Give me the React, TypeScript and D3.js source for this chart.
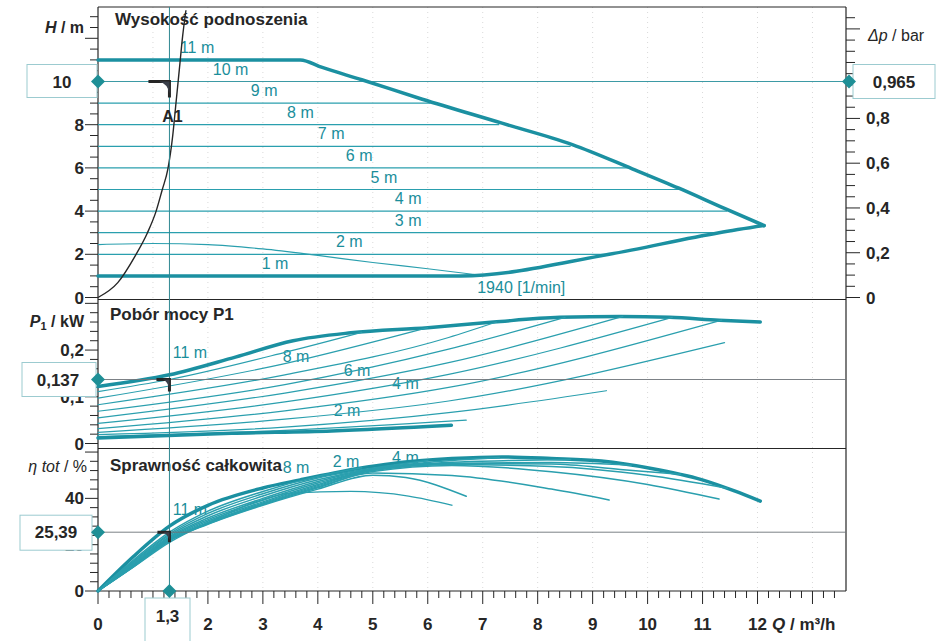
import React from 'react';
import * as d3 from 'd3';

const FONT = '"Liberation Sans", Arial, Helvetica, sans-serif';
const TEAL = '#1b90a1';
const TEAL_THIN = '#2a9fae';
const TEAL_TEXT = '#1b8e9b';
const INK = '#262626';

// Wysokość podnoszenia - constant pressure lines
const headLabels = ['11 m', '10 m', '9 m', '8 m', '7 m', '6 m', '5 m', '4 m', '3 m', '2 m', '1 m'];
const heads = [11, 10, 9, 8, 7, 6, 5, 4, 3, 2, 1];
const headEndQ = [3.68, 4.8, 6.05, 7.3, 8.6, 9.7, 10.6, 11.45, 11.3, 9.3, 6.6];
const headLabelQ = [1.49, 2.09, 2.78, 3.44, 4.0, 4.51, 4.96, 5.4, 5.4, 4.33, 2.98];

// max speed curve (upper boundary) and lower boundary
const maxQ = [0, 3.68, 4.08, 4.8, 5.9, 7.35, 8.63, 9.72, 10.57, 11.41, 12.12];
const maxH = [11, 11, 10.65, 10.08, 9.18, 8.07, 7.08, 5.96, 5.06, 4.11, 3.33];
const lowQ = [0, 6.6, 9.3, 11.3, 12.12];
const lowH = [1, 1, 2, 3, 3.33];

// 1940 1/min curve
const minSpeedQ = [0, 1, 2, 3, 4, 5, 6, 6.9];
const minSpeedH = [2.45, 2.5, 2.45, 2.25, 1.95, 1.62, 1.33, 1.05];

// system curve through A1
const sysQ = [0, 0.36, 0.68, 0.9, 1.05, 1.17, 1.27, 1.36, 1.42, 1.48, 1.54, 1.6];
const sysH = [0, 0.69, 1.94, 3.0, 3.94, 5.0, 5.93, 7.5, 9.03, 10.56, 12.1, 13.3];

// operating point
const opQ = 1.3;
const opH = 10;
const opDp = 0.965;
const opP = 0.137;
const opEta = 25.39;

// x axis labels (1 sits under the 1,3 box)
const qLabels = [0, 2, 3, 4, 5, 6, 7, 8, 9, 10, 11, 12];

// Pobór mocy P1 [kW], one row per head (11 m .. 1 m)
const powerQ = [
  [0, 1.3, 2.5, 3.55, 4.6, 6, 7.2, 8.4, 9.5, 10.4, 11.3, 12.05],
  [0, 1.3, 3.4, 4.8],
  [0, 3.4, 6.0],
  [0, 3.4, 6.38, 7.25],
  [0, 3.4, 6.38, 8.5],
  [0, 3.4, 6.38, 9.55],
  [0, 3.4, 6.38, 10.45],
  [0, 3.4, 6.38, 11.35],
  [0, 3.4, 6.38, 11.4],
  [0, 3.4, 6.38, 9.25],
  [0, 3.4, 6.7],
];
const powerP = [
  [0.122, 0.147, 0.185, 0.22, 0.237, 0.248, 0.26, 0.27, 0.272, 0.27, 0.264, 0.26],
  [0.111, 0.137, 0.195, 0.238],
  [0.097, 0.171, 0.248],
  [0.083, 0.147, 0.227, 0.26],
  [0.069, 0.126, 0.202, 0.27],
  [0.055, 0.108, 0.173, 0.272],
  [0.043, 0.089, 0.148, 0.27],
  [0.032, 0.07, 0.12, 0.264],
  [0.024, 0.052, 0.091, 0.216],
  [0.019, 0.035, 0.066, 0.113],
  [0.015, 0.028, 0.05],
];
const powerMinQ = [0, 2.43, 4.25, 6.43];
const powerMinP = [0.012, 0.022, 0.027, 0.039];
const powerLabels = ['11 m', '8 m', '6 m', '4 m', '2 m'];
const powerLabelQ = [1.36, 3.36, 4.47, 5.35, 4.29];
const powerLabelP = [0.183, 0.175, 0.145, 0.117, 0.059];

// Sprawność całkowita [%], one row per head (11 m .. 1 m)
const effQ = [
  [0, 0.65, 1.3, 2, 3, 3.68, 4.3, 4.9, 5.5, 6.44, 7.35, 8.25, 9.16, 10.07, 10.98, 11.58, 12.05],
  [0, 0.65, 1.3, 2, 3, 4, 4.8],
  [0, 0.65, 1.3, 2, 3, 4, 5, 6],
  [0, 0.65, 1.3, 2, 3, 4, 5, 6, 7.3],
  [0, 0.65, 1.3, 2, 3, 4, 5, 6.44, 7.5, 8.6],
  [0, 0.65, 1.3, 2, 3, 4, 5, 6.44, 8.25, 9.7],
  [0, 0.65, 1.3, 2, 3, 4, 5, 6.44, 8.25, 9.5, 10.6],
  [0, 0.65, 1.3, 2, 3, 4, 5, 6.44, 8.25, 10, 11.45],
  [0, 0.65, 1.3, 2, 3, 4, 5, 6.44, 8.25, 10, 11.3],
  [0, 0.65, 1.3, 2, 3, 4, 5, 6.44, 8.25, 9.3],
  [0, 0.65, 1.3, 2, 3, 4, 5, 5.6, 6.7],
];
const effV = [
  [0, 15, 28, 37, 44.5, 48, 51, 53.5, 55.5, 57.2, 57.9, 57.2, 56.1, 52.9, 48.1, 43.2, 38.8],
  [0, 13.5, 25.4, 34.5, 43, 49.5, 53.2],
  [0, 13, 24.7, 33.5, 42, 48.8, 53, 56.3],
  [0, 12.6, 24.1, 32.5, 41, 48, 52.8, 55.5, 57.6],
  [0, 12.2, 23.5, 31.5, 40, 47.3, 52.6, 55.6, 56.3, 56.8],
  [0, 11.8, 23, 30.8, 39.2, 46.6, 52.4, 55.2, 55.5, 54.3],
  [0, 11.4, 22.6, 30.2, 38.5, 46, 52.2, 55, 54.8, 52.5, 50.4],
  [0, 11, 22.2, 29.6, 38, 45.5, 52, 54.6, 53.8, 50, 44.4],
  [0, 10.8, 22, 29.2, 37.6, 45, 51.6, 54.2, 51.5, 46, 39.7],
  [0, 10.6, 21.8, 29, 37.3, 44.6, 51, 49.9, 44, 39.3],
  [0, 10.5, 21.6, 28.8, 37, 44, 50, 49, 40.9],
];
const effMinQ = [0, 0.65, 1.3, 2, 3, 3.5, 4.6, 5.65, 6.45];
const effMinV = [0, 10.4, 21, 29.5, 39.5, 42.3, 43, 41, 37];
const effLabels = ['11 m', '8 m', '2 m', '4 m'];
const effLabelQ = [1.36, 3.36, 4.27, 5.35];
const effLabelV = [33, 51, 53.6, 55.3];

// frame
const left = 98;
const right = 846;
const top = 7;
const sep1 = 299.5;
const sep2 = 448.5;
const bottom = 591;

const x = d3.scaleLinear().domain([0, 12]).range([left, left + 12 * 54.96]);
const yH = d3.scaleLinear().domain([0, 10]).range([297.5, 81.5]);
const yBar = d3.scaleLinear().domain([0, 0.965]).range([297.5, 81.5]);
const yP = d3.scaleLinear().domain([0, 0.137]).range([443.5, 379.5]);
const yE = d3.scaleLinear().domain([0, 25.39]).range([591, 532.2]);

const fmt = (v: number) => String(+v.toFixed(4)).replace('.', ',');

function curve(qs: number[], vs: number[], sy: (v: number) => number) {
  return d3.line<number>()
    .x(q => x(q))
    .y((_, i) => sy(vs[i]))
    .curve(d3.curveMonotoneX)(qs) || '';
}

function Diamond({ cx, cy }: { cx: number; cy: number }) {
  const r = 7;
  return <path d={`M${cx},${cy - r}L${cx + r},${cy}L${cx},${cy + r}L${cx - r},${cy}Z`} fill="#1e8f96" />;
}

function Elbow({ cx, cy, len, drop }: { cx: number; cy: number; len: number; drop: number }) {
  return (
    <g>
      <path d={`M${cx - len},${cy}H${cx}V${cy + drop}`} fill="none" stroke={INK} strokeWidth={3} />
      <path d={`M${cx - len * 0.5},${cy}Q${cx - 2},${cy + 2} ${cx},${cy + drop * 0.75}L${cx},${cy}Z`} fill="#3a3f4a" />
    </g>
  );
}

function ValueBox({ x0, y0, w, h, text, tx, ty }: { x0: number; y0: number; w: number; h: number; text: string; tx: number; ty: number }) {
  return (
    <g>
      <rect x={x0} y={y0} width={w} height={h} fill="#fff" stroke="#9ccbd0" strokeWidth={1} />
      <text x={tx} y={ty} textAnchor="middle" fontSize={17} fontWeight="bold" fill={INK}>{text}</text>
    </g>
  );
}

export default function App() {
  const hTicks = d3.range(0, 13.01, 0.5);
  const pTicks = d3.range(0, 0.301, 0.02);
  const eTicks = d3.range(0, 60.1, 4);
  const barTicks = d3.range(0, 1.251, 0.05);
  const qTicks = d3.range(0, 13.41, 0.2);

  const isMajor = (v: number, step: number) => Math.abs(v / step - Math.round(v / step)) < 1e-6;

  return (
    <div style={{ position: 'absolute', left: 0, top: 0 }}>
      <svg width={938} height={641} viewBox="0 0 938 641" style={{ display: 'block', background: '#fff' }} fontFamily={FONT}>
        {/* faint grid */}
        {d3.range(1, 14).map(q => (
          <line key={'g' + q} x1={x(q)} x2={x(q)} y1={top} y2={bottom} stroke="#d9d9d9" strokeDasharray="1 4" />
        ))}

        {/* frame */}
        <line x1={left} x2={right} y1={top} y2={top} stroke={INK} strokeWidth={1.2} />
        <line x1={left} x2={left} y1={top} y2={bottom} stroke={INK} strokeWidth={1.2} />
        <line x1={right} x2={right} y1={top} y2={bottom} stroke={INK} strokeWidth={1.2} />
        <line x1={left} x2={right} y1={sep1} y2={sep1} stroke={INK} strokeWidth={1} />
        <line x1={left} x2={right} y1={sep2} y2={sep2} stroke={INK} strokeWidth={1} />
        <line x1={left} x2={right} y1={bottom} y2={bottom} stroke={INK} strokeWidth={1.2} />

        {/* left axes */}
        {hTicks.map(v => (
          <line key={'h' + v} x1={left - (isMajor(v, 2) ? 13 : 8)} x2={left} y1={yH(v)} y2={yH(v)} stroke={INK} />
        ))}
        {[0, 2, 4, 6, 8].map(v => (
          <text key={'hl' + v} x={84} y={yH(v) + 6} textAnchor="end" fontSize={17} fontWeight="bold" fill={INK}>{v}</text>
        ))}
        {pTicks.map(v => (
          <line key={'p' + v} x1={left - (isMajor(v, 0.1) ? 13 : 8)} x2={left} y1={yP(v)} y2={yP(v)} stroke={INK} />
        ))}
        {[0, 0.1, 0.2].map(v => (
          <text key={'pl' + v} x={84} y={yP(v) + 6} textAnchor="end" fontSize={17} fontWeight="bold" fill={INK}>{fmt(v)}</text>
        ))}
        {eTicks.map(v => (
          <line key={'e' + v} x1={left - (isMajor(v, 20) ? 13 : 8)} x2={left} y1={yE(v)} y2={yE(v)} stroke={INK} />
        ))}
        {[0, 20, 40].map(v => (
          <text key={'el' + v} x={84} y={yE(v) + 6} textAnchor="end" fontSize={17} fontWeight="bold" fill={INK}>{v}</text>
        ))}

        {/* right axis Δp */}
        {barTicks.map(v => (
          <line key={'b' + v} x1={right} x2={right + (isMajor(v, 0.2) ? 14 : 9)} y1={yBar(v)} y2={yBar(v)} stroke={INK} />
        ))}
        {[0, 0.2, 0.4, 0.6, 0.8].map(v => (
          <text key={'bl' + v} x={866} y={yBar(v) + 6} fontSize={17} fontWeight="bold" fill={INK}>{fmt(v)}</text>
        ))}

        {/* bottom axis */}
        {qTicks.map(v => (
          <line key={'q' + v} x1={x(v)} x2={x(v)} y1={bottom} y2={bottom + (isMajor(v, 1) ? 13 : 7)} stroke={INK} />
        ))}
        {qLabels.map(v => (
          <text key={'ql' + v} x={x(v)} y={630} textAnchor="middle" fontSize={17} fontWeight="bold" fill={INK}>{v}</text>
        ))}

        {/* axis titles */}
        <text x={84} y={33} textAnchor="end" fontSize={16} fontWeight="bold" fill={INK}>
          <tspan fontStyle="italic">H</tspan> / m
        </text>
        <text x={868} y={41} fontSize={16} fill={INK}>
          <tspan fontStyle="italic">Δp</tspan> / bar
        </text>
        <text x={84} y={327} textAnchor="end" fontSize={16} fontWeight="bold" fill={INK}>
          <tspan fontStyle="italic">P</tspan><tspan fontSize={11} dy={3}>1</tspan><tspan dy={-3}> / kW</tspan>
        </text>
        <text x={87} y={472} textAnchor="end" fontSize={16} fill={INK}>
          <tspan fontStyle="italic">η tot</tspan> / %
        </text>
        <text x={772} y={630} fontSize={17} fontWeight="bold" fill={INK}>
          <tspan fontStyle="italic">Q</tspan> / m³/h
        </text>

        {/* panel titles */}
        <text x={115} y={25} fontSize={17} fontWeight="bold" fill={INK}>Wysokość podnoszenia</text>
        <text x={110} y={320} fontSize={17} fontWeight="bold" fill={INK}>Pobór mocy P1</text>
        <text x={110} y={471} fontSize={17} fontWeight="bold" fill={INK}>Sprawność całkowita</text>

        {/* ---- top panel ---- */}
        {heads.map((h, i) => (
          i === 0 || i === heads.length - 1 ? null :
            <line key={'hl' + h} x1={x(0)} x2={x(headEndQ[i])} y1={yH(h)} y2={yH(h)} stroke={TEAL_THIN} strokeWidth={1.2} />
        ))}
        <line x1={left} x2={right} y1={yH(opH)} y2={yH(opH)} stroke="#3d9aa5" strokeWidth={1} />
        {heads.map((h, i) => (
          <text key={'ht' + h} x={x(headLabelQ[i])} y={yH(h) - 7} fontSize={16} fill={TEAL_TEXT}>{headLabels[i]}</text>
        ))}
        <path d={curve(minSpeedQ, minSpeedH, yH)} fill="none" stroke={TEAL_THIN} strokeWidth={1.2} />
        <path d={curve(maxQ, maxH, yH)} fill="none" stroke={TEAL} strokeWidth={3.5} strokeLinejoin="round" strokeLinecap="round" />
        <path d={curve(lowQ, lowH, yH)} fill="none" stroke={TEAL} strokeWidth={3.5} strokeLinejoin="round" strokeLinecap="round" />
        <text x={x(6.9)} y={yH(0.2)} fontSize={16} fill={TEAL_TEXT}>1940 [1/min]</text>
        <path d={curve(sysQ, sysH, yH)} fill="none" stroke={INK} strokeWidth={1.4} />

        {/* ---- middle panel ---- */}
        {powerLabels.map((t, i) => (
          <text key={'pt' + i} x={x(powerLabelQ[i])} y={yP(powerLabelP[i])} fontSize={16} fill={TEAL_TEXT}>{t}</text>
        ))}
        {powerQ.map((qs, i) => (
          <path key={'pc' + i} d={curve(qs, powerP[i], yP)} fill="none" stroke={i === 0 ? TEAL : TEAL_THIN}
            strokeWidth={i === 0 ? 3.5 : 1.2} strokeLinecap="round" />
        ))}
        <path d={curve(powerMinQ, powerMinP, yP)} fill="none" stroke={TEAL} strokeWidth={3.5} strokeLinecap="round" />
        <line x1={left} x2={right} y1={yP(opP)} y2={yP(opP)} stroke="#6d7378" strokeWidth={0.9} />

        {/* ---- bottom panel ---- */}
        {effLabels.map((t, i) => (
          <text key={'et' + i} x={x(effLabelQ[i])} y={yE(effLabelV[i])} fontSize={16} fill={TEAL_TEXT}>{t}</text>
        ))}
        {effQ.map((qs, i) => (
          <path key={'ec' + i} d={curve(qs, effV[i], yE)} fill="none" stroke={i === 0 ? TEAL : TEAL_THIN}
            strokeWidth={i === 0 ? 3.5 : 1.5} strokeLinecap="round" />
        ))}
        <path d={curve(effMinQ, effMinV, yE)} fill="none" stroke={TEAL_THIN} strokeWidth={1.3} />
        <line x1={left} x2={right} y1={yE(opEta)} y2={yE(opEta)} stroke="#6d7378" strokeWidth={0.9} />

        {/* operating point verticals and markers */}
        <line x1={x(opQ)} x2={x(opQ)} y1={top} y2={bottom} stroke="#2f8791" strokeWidth={1} />
        <Elbow cx={x(opQ)} cy={yH(opH)} len={21} drop={16} />
        <text x={x(opQ) + 3} y={yH(opH) + 40} textAnchor="middle" fontSize={16} fontWeight="bold" fill={INK}>A1</text>
        <Elbow cx={x(opQ)} cy={yP(opP)} len={13} drop={12} />
        <Elbow cx={x(opQ)} cy={yE(opEta)} len={12} drop={10} />

        {/* value boxes */}
        <ValueBox x0={27} y0={yH(opH) - 17} w={70} h={33} text={fmt(opH)} tx={62} ty={yH(opH) + 6} />
        <Diamond cx={left} cy={yH(opH)} />
        <ValueBox x0={853} y0={yBar(opDp) - 17} w={82} h={34} text={fmt(opDp)} tx={894} ty={yBar(opDp) + 6} />
        <Diamond cx={right + 3} cy={yBar(opDp)} />
        <ValueBox x0={22} y0={yP(opP) - 17} w={74} h={34} text={fmt(opP)} tx={58} ty={yP(opP) + 6} />
        <Diamond cx={left} cy={yP(opP)} />
        <ValueBox x0={20} y0={yE(opEta) - 17} w={72} h={35} text={fmt(opEta)} tx={56} ty={yE(opEta) + 6} />
        <Diamond cx={left} cy={yE(opEta)} />
        <ValueBox x0={145} y0={598} w={45} h={50} text={fmt(opQ)} tx={167.5} ty={622} />
        <Diamond cx={x(opQ)} cy={bottom} />
      </svg>
    </div>
  );
}
